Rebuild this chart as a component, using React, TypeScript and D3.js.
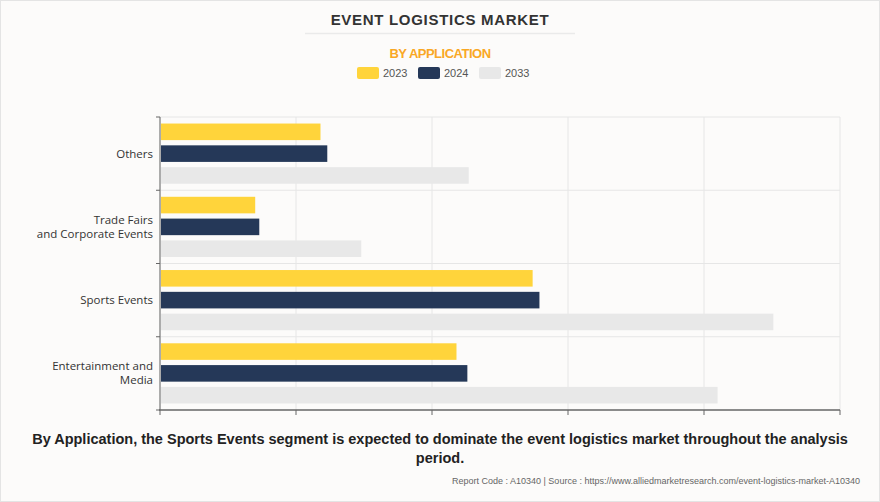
import { useEffect, useRef } from 'react';
import * as d3 from 'd3';

const categories = ['Others', 'Trade Fairs\nand Corporate Events', 'Sports Events', 'Entertainment and\nMedia'];
const years = ['2023', '2024', '2033'];
const values2023 = [1.18, 0.7, 2.74, 2.18];
const values2024 = [1.23, 0.73, 2.79, 2.26];
const values2033 = [2.27, 1.48, 4.51, 4.1];
const xTicks = [0, 1, 2, 3, 4, 5];
const colors = ['#ffd43b', '#253858', '#e8e8e8'];

export default function App() {
  const svgRef = useRef<SVGSVGElement>(null);

  useEffect(() => {
    const svg = d3.select(svgRef.current);
    if (!svg.node()) return;
    svg.selectAll('*').remove();

    const width = 880;
    const height = 502;
    const margin = { top: 117, right: 40, bottom: 92, left: 160 };
    const font = 'Arial, "Liberation Sans", sans-serif';
    const series = [values2023, values2024, values2033];

    svg.append('rect').attr('width', width).attr('height', height).attr('fill', '#fcfbfa');
    svg.append('rect').attr('x', 0.5).attr('y', 0.5).attr('width', width - 1).attr('height', height - 1)
      .attr('fill', 'none').attr('stroke', '#e4e4e4');

    const x = d3.scaleLinear().domain([0, 5]).range([margin.left, width - margin.right]);
    const y = d3.scaleBand<number>().domain(d3.range(categories.length))
      .range([margin.top, height - margin.bottom]);
    const sub = d3.scaleBand<number>().domain(d3.range(years.length))
      .range([0, y.bandwidth()]).paddingInner(0.24).paddingOuter(0.3);

    // grid
    const g = svg.append('g');
    g.selectAll('line.vg').data(xTicks).join('line')
      .attr('x1', (d) => x(d)).attr('x2', (d) => x(d))
      .attr('y1', margin.top).attr('y2', height - margin.bottom)
      .attr('stroke', '#e6e6e6');
    const bounds = d3.range(categories.length).map((i) => y(i)!);
    g.selectAll('line.hg').data(bounds).join('line')
      .attr('x1', margin.left).attr('x2', width - margin.right)
      .attr('y1', (d) => d).attr('y2', (d) => d)
      .attr('stroke', '#e6e6e6');

    // bars
    series.forEach((vals, si) => {
      g.append('g').selectAll('rect').data(vals).join('rect')
        .attr('x', x(0) + 1)
        .attr('y', (_, i) => y(i)! + sub(si)!)
        .attr('width', (d) => x(d) - x(0) - 1)
        .attr('height', sub.bandwidth())
        .attr('fill', colors[si]);
    });

    // axes
    const axis = svg.append('g').attr('stroke', '#666');
    axis.append('line').attr('x1', margin.left).attr('x2', margin.left)
      .attr('y1', margin.top).attr('y2', height - margin.bottom);
    axis.selectAll('line.yt').data([...bounds, height - margin.bottom]).join('line')
      .attr('x1', margin.left - 4).attr('x2', margin.left)
      .attr('y1', (d) => d).attr('y2', (d) => d);
    axis.append('line').attr('x1', margin.left - 1).attr('x2', width - margin.right)
      .attr('y1', height - margin.bottom).attr('y2', height - margin.bottom).attr('stroke-width', 1.3);
    axis.selectAll('line.xt').data(xTicks).join('line')
      .attr('x1', (d) => x(d)).attr('x2', (d) => x(d))
      .attr('y1', height - margin.bottom).attr('y2', height - margin.bottom + 5);

    // category labels
    categories.forEach((c, i) => {
      const lines = c.split('\n');
      const cy = y(i)! + y.bandwidth() / 2;
      const t = svg.append('text').attr('text-anchor', 'end').attr('font-family', 'Segoe UI, "Open Sans", sans-serif')
        .attr('font-size', 11.5).attr('fill', '#333');
      lines.forEach((l, li) => {
        t.append('tspan').attr('x', margin.left - 7)
          .attr('y', cy + 4 + (li - (lines.length - 1) / 2) * 14).text(l);
      });
    });

    // titles
    svg.append('text').attr('x', width / 2).attr('y', 25).attr('text-anchor', 'middle')
      .attr('font-family', font).attr('font-weight', 'bold').attr('font-size', 15)
      .attr('letter-spacing', 0.7).attr('fill', '#333').text('EVENT LOGISTICS MARKET');
    svg.append('line').attr('x1', 305).attr('x2', 575).attr('y1', 33.5).attr('y2', 33.5)
      .attr('stroke', '#eaeaea').attr('stroke-width', 1.5);
    svg.append('text').attr('x', width / 2).attr('y', 58).attr('text-anchor', 'middle')
      .attr('font-family', font).attr('font-weight', 'bold').attr('font-size', 13)
      .attr('letter-spacing', -0.5).attr('fill', '#f9a825').text('BY APPLICATION');

    // legend
    const legendX = [357, 418, 479];
    years.forEach((yr, i) => {
      svg.append('rect').attr('x', legendX[i]).attr('y', 67).attr('width', 22).attr('height', 12)
        .attr('rx', 2).attr('fill', colors[i]);
      svg.append('text').attr('x', legendX[i] + 26).attr('y', 77).attr('font-family', font)
        .attr('font-size', 11).attr('fill', '#555').text(yr);
    });

    // caption
    const cap = svg.append('text').attr('text-anchor', 'middle').attr('font-family', font)
      .attr('font-weight', 'bold').attr('font-size', 14.5).attr('fill', '#222');
    cap.append('tspan').attr('x', width / 2).attr('y', 444)
      .text('By Application, the Sports Events segment is expected to dominate the event logistics market throughout the analysis');
    cap.append('tspan').attr('x', width / 2).attr('y', 463).text('period.');

    svg.append('text').attr('x', 860).attr('y', 484).attr('text-anchor', 'end').attr('font-family', font)
      .attr('font-size', 9).attr('fill', '#666')
      .text('Report Code : A10340  |  Source : https://www.alliedmarketresearch.com/event-logistics-market-A10340');
  }, []);

  return (
    <div style={{ position: 'fixed', left: 0, top: 0 }}>
      <svg ref={svgRef} width={880} height={502} style={{ display: 'block' }} />
    </div>
  );
}
